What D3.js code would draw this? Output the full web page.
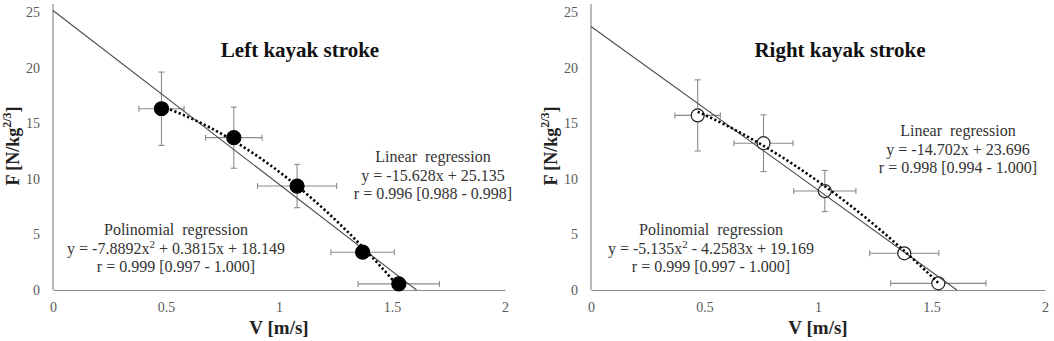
<!DOCTYPE html>
<html>
<head>
<meta charset="utf-8">
<script src="https://cdn.jsdelivr.net/npm/d3@7"></script>
<style>
  body { margin: 0; background: #fff; }
  svg text { font-family: "Liberation Serif", Tinos, "Times New Roman", Times, "DejaVu Serif", serif !important; }
</style>
</head>
<body>
<div id="chart"></div>
<script>
// axis ticks
var xTicks = [0, 0.5, 1, 1.5, 2];
var yTicks = [0, 5, 10, 15, 20, 25];

// left kayak stroke: mean V, mean F, sd V, sd F
var leftV = [0.48, 0.80, 1.08, 1.37, 1.53];
var leftF = [16.3, 13.7, 9.35, 3.4, 0.55];
var leftVErr = [0.10, 0.125, 0.175, 0.14, 0.18];
var leftFErr = [3.3, 2.75, 1.95, 0.5, 0.2];
var leftLin = [-15.628, 25.135];
var leftPoly = [-7.8892, 0.3815, 18.149];

// right kayak stroke
var rightV = [0.47, 0.76, 1.03, 1.38, 1.53];
var rightF = [15.7, 13.2, 8.9, 3.3, 0.6];
var rightVErr = [0.10, 0.13, 0.137, 0.152, 0.21];
var rightFErr = [3.2, 2.55, 1.85, 0.4, 0.3];
var rightLin = [-14.702, 23.696];
var rightPoly = [-5.135, -4.2583, 19.169];

var W = 1054, H = 341;

var svg = d3.select("#chart")
  .append("svg")
    .attr("width", W)
    .attr("height", H);

var panels = [
  {x0: 53, x1: 505, title: "Left kayak stroke", titleX: 300, open: false,
   V: leftV, F: leftF, VErr: leftVErr, FErr: leftFErr, lin: leftLin, poly: leftPoly,
   linLabel: ["-15.628x + 25.135", "r = 0.996 [0.988 - 0.998]"], linX: 433, linY: 162,
   polyLabel: ["-7.8892x", " + 0.3815x + 18.149", "r = 0.999 [0.997 - 1.000]"], polyX: 176, polyY: 235,
   yTitleX: 15},
  {x0: 591, x1: 1045, title: "Right kayak stroke", titleX: 840, open: true,
   V: rightV, F: rightF, VErr: rightVErr, FErr: rightFErr, lin: rightLin, poly: rightPoly,
   linLabel: ["-14.702x + 23.696", "r = 0.998 [0.994 - 1.000]"], linX: 958, linY: 136,
   polyLabel: ["-5.135x", " - 4.2583x + 19.169", "r = 0.999 [0.997 - 1.000]"], polyX: 711, polyY: 235,
   yTitleX: 553}
];

panels.forEach(function(p) {
  var x = d3.scaleLinear().domain([0, 2]).range([p.x0, p.x1]);
  var y = d3.scaleLinear().domain([0, 25]).range([290, 12]);
  var g = svg.append("g");

  // axes
  var xAxis = g.append("g")
    .attr("transform", "translate(0," + y(0) + ")")
    .call(d3.axisBottom(x).tickValues(xTicks).tickSize(0).tickPadding(12)
      .tickFormat(function(d) { return d; }));
  var yAxis = g.append("g")
    .attr("transform", "translate(" + x(0) + ",0)")
    .call(d3.axisLeft(y).tickValues(yTicks).tickSize(0).tickPadding(13));
  [xAxis, yAxis].forEach(function(a) {
    a.attr("font-family", null);
    a.select(".domain").attr("stroke", "#8c8c8c").attr("stroke-width", 1.2);
    a.selectAll("text")
      .attr("font-size", "14px")
      .attr("fill", "#5a5a5a");
  });
  // y axis line extends a bit above 25
  yAxis.select(".domain").attr("d", "M0," + y(0) + "V" + (y(25) - 8));

  // titles
  g.append("text")
    .attr("x", p.titleX).attr("y", 57)
    .attr("text-anchor", "middle")
    .attr("font-size", "21px").attr("font-weight", "bold")
    .attr("fill", "#111")
    .text(p.title);

  g.append("text")
    .attr("x", x(1)).attr("y", 334)
    .attr("text-anchor", "middle")
    .attr("font-size", "19px").attr("font-weight", "bold")
    .attr("fill", "#222")
    .text("V [m/s]");

  var yt = g.append("text")
    .attr("transform", "translate(" + p.yTitleX + ",146) rotate(-90)")
    .attr("text-anchor", "middle")
    .attr("dominant-baseline", "middle")
    .attr("font-size", "18px").attr("font-weight", "bold")
    .attr("fill", "#222");
  yt.append("tspan").text("F [N/kg");
  yt.append("tspan").attr("baseline-shift", "super").attr("font-size", "12px").text("2/3");
  yt.append("tspan").text("]");

  var pts = p.V.map(function(v, i) {
    return {v: v, f: p.F[i], ve: p.VErr[i], fe: p.FErr[i]};
  });

  // error bars
  var eb = g.append("g").attr("stroke", "#8a8a8a").attr("stroke-width", 1.1);
  pts.forEach(function(d) {
    var cap = 3;
    eb.append("line").attr("x1", x(d.v - d.ve)).attr("x2", x(d.v + d.ve))
      .attr("y1", y(d.f)).attr("y2", y(d.f));
    eb.append("line").attr("x1", x(d.v - d.ve)).attr("x2", x(d.v - d.ve))
      .attr("y1", y(d.f) - cap).attr("y2", y(d.f) + cap);
    eb.append("line").attr("x1", x(d.v + d.ve)).attr("x2", x(d.v + d.ve))
      .attr("y1", y(d.f) - cap).attr("y2", y(d.f) + cap);
    eb.append("line").attr("x1", x(d.v)).attr("x2", x(d.v))
      .attr("y1", y(d.f - d.fe)).attr("y2", y(d.f + d.fe));
    eb.append("line").attr("x1", x(d.v) - cap).attr("x2", x(d.v) + cap)
      .attr("y1", y(d.f - d.fe)).attr("y2", y(d.f - d.fe));
    eb.append("line").attr("x1", x(d.v) - cap).attr("x2", x(d.v) + cap)
      .attr("y1", y(d.f + d.fe)).attr("y2", y(d.f + d.fe));
  });

  function drawCircles() {
    g.selectAll(null).data(pts).enter().append("circle")
      .attr("cx", function(d) { return x(d.v); })
      .attr("cy", function(d) { return y(d.f); })
      .attr("r", p.open ? 6.5 : 7)
      .attr("fill", p.open ? "white" : "black")
      .attr("stroke", p.open ? "#222" : "black")
      .attr("stroke-width", 1.2);
  }

  function drawLines() {
    // linear regression from x=0 to its root
    var root = -p.lin[1] / p.lin[0];
    g.append("line")
      .attr("x1", x(0)).attr("y1", y(p.lin[1]))
      .attr("x2", x(root)).attr("y2", y(0))
      .attr("stroke", "#4a4a4a").attr("stroke-width", 1.1);

    // polynomial regression over the range of the data
    var xs = d3.range(0, 41).map(function(i) {
      return p.V[0] + (p.V[p.V.length - 1] - p.V[0]) * i / 40;
    });
    var line = d3.line()
      .x(function(v) { return x(v); })
      .y(function(v) { return y(p.poly[0] * v * v + p.poly[1] * v + p.poly[2]); });
    g.append("path")
      .attr("d", line(xs))
      .attr("fill", "none")
      .attr("stroke", "black")
      .attr("stroke-width", 2.6)
      .attr("stroke-dasharray", "2.2,2.4");
  }

  if (p.open) { drawCircles(); drawLines(); }
  else { drawLines(); drawCircles(); }

  // annotations
  var lin = g.append("text").attr("text-anchor", "middle")
    .attr("font-size", "16px").attr("fill", "#333");
  lin.append("tspan").attr("x", p.linX).attr("y", p.linY).text("Linear\u2002regression");
  lin.append("tspan").attr("x", p.linX).attr("y", p.linY + 18.5).text("y = " + p.linLabel[0]);
  lin.append("tspan").attr("x", p.linX).attr("y", p.linY + 37).text(p.linLabel[1]);

  var pol = g.append("text").attr("text-anchor", "middle")
    .attr("font-size", "16px").attr("fill", "#333");
  pol.append("tspan").attr("x", p.polyX).attr("y", p.polyY).text("Polinomial\u2002regression");
  var l2 = g.append("text").attr("text-anchor", "middle")
    .attr("x", p.polyX).attr("y", p.polyY + 18.5)
    .attr("font-size", "16px").attr("fill", "#333");
  l2.append("tspan").text("y = " + p.polyLabel[0]);
  l2.append("tspan").attr("baseline-shift", "super").attr("font-size", "11px").text("2");
  l2.append("tspan").text(p.polyLabel[1]);
  pol.append("tspan").attr("x", p.polyX).attr("y", p.polyY + 37).text(p.polyLabel[2]);
});
</script>
</body>
</html>
